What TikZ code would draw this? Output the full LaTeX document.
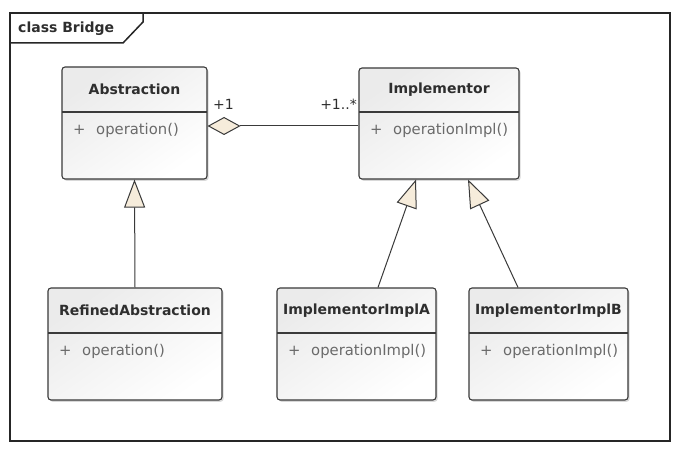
\documentclass[tikz,border=0pt]{standalone}
\usepackage{fontspec}
\setmainfont{DejaVu Sans}
\usetikzlibrary{arrows.meta,shadows,calc}
\definecolor{cream}{HTML}{F6ECDB}
\definecolor{edge}{HTML}{3A3A3A}
\definecolor{nametext}{HTML}{2E2E2E}
\definecolor{optxt}{HTML}{6A6A6A}
\tikzset{
  classbox/.style={draw=edge, line width=1.1pt, rounded corners=3pt,
    top color=gray!16, bottom color=white, shading angle=35,
    drop shadow={opacity=0.3, shadow xshift=1.6pt, shadow yshift=-1.8pt},
    inner sep=0pt},
  boxline/.style={draw=edge, line width=1.1pt},
  titletext/.style={inner sep=0pt, text=nametext, font=\fontsize{14}{16}\selectfont\bfseries},
  optext/.style={inner sep=0pt, text=optxt, font=\fontsize{14.8}{17}\selectfont},
  conn/.style={draw=edge, line width=1pt},
  mult/.style={inner sep=0pt, text=nametext, font=\fontsize{14}{16}\selectfont},
  frameline/.style={draw=black!85, line width=1.5pt}
}
\newcommand{\umlclass}[8]{%
  \node[classbox, minimum width={#4-#2}, minimum height={#5-#3}] (#1) at ({(#2+#4)/2},{(#3+#5)/2}) {};
  \draw[boxline] (#2,#6) -- (#4,#6);
  \node[titletext] (#1-t) at ({(#2+#4)/2},{(#3+#6)/2}) {#7};
  \node[optext, anchor=west] (#1-p) at ({#2+11},{#6+18}) {+};
  \node[optext, anchor=west] (#1-o) at ({#2+34},{#6+18}) {#8};
}
\begin{document}
\begin{tikzpicture}[x=1pt,y=-1pt]
\fill[white] (0,0) rectangle (686,454);
\useasboundingbox (0,0) rectangle (686,454);
% frame
\draw[frameline] (10,13) rectangle (670,441);
\draw[frameline] (10,43) -- (123,43) -- (143,22) -- (143,13);
\node[titletext, anchor=west] (frametitle) at (18,29) {class Bridge};
% classes
\umlclass{abs}{62}{67}{207}{179}{112}{Abstraction}{operation()}
\umlclass{impl}{359}{68}{519}{179}{112}{Implementor}{operationImpl()}
\umlclass{ref}{48}{288}{222}{400}{333}{RefinedAbstraction}{operation()}
\umlclass{implA}{277}{288}{436}{400}{333}{ImplementorImplA}{operationImpl()}
\umlclass{implB}{469}{288}{628}{400}{333}{ImplementorImplB}{operationImpl()}
% aggregation
\draw[conn, {Diamond[length=33pt,width=18pt,fill=cream]}-] ($(abs.east)+(0,3)$) -- ($(impl.west)+(0,2.5)$);
\node[mult, anchor=west] (m1) at (213,104) {+1};
\node[mult, anchor=east] (m2) at (357,104) {+1..*};
% generalizations
\draw[conn, -{Triangle[length=28pt,width=21pt,fill=cream]}] (ref.north) -- (abs.south);
\draw[conn, -{Triangle[length=28pt,width=21pt,fill=cream]}] ($(implA.north)+(21.5,0)$) -- ($(impl.south)+(-23,0)$);
\draw[conn, -{Triangle[length=28pt,width=21pt,fill=cream]}] ($(implB.north)+(-30.5,0)$) -- ($(impl.south)+(29,0)$);
\end{tikzpicture}
\end{document}
